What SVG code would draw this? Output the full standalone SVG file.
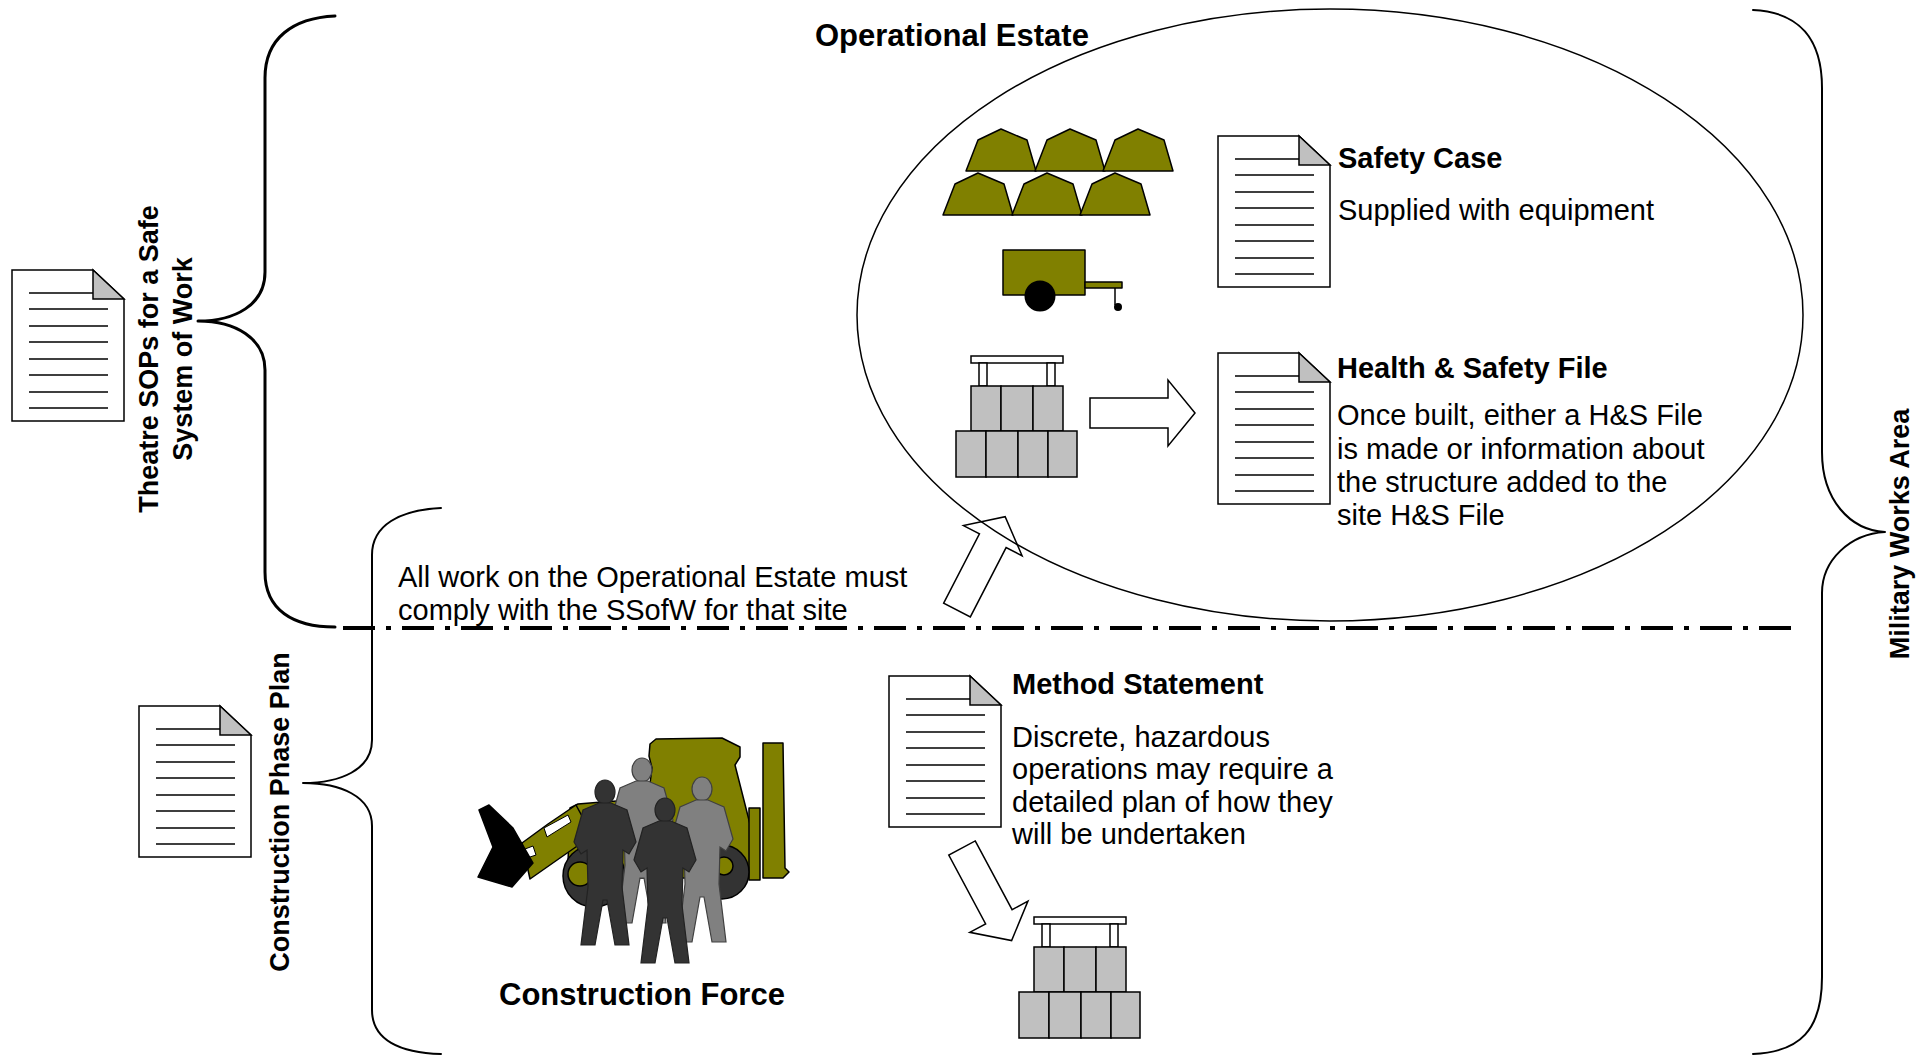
<svg xmlns="http://www.w3.org/2000/svg" xmlns:xlink="http://www.w3.org/1999/xlink" width="1928" height="1056" viewBox="0 0 1928 1056">
  <style>
    text { font-family: "Liberation Sans", Arial, sans-serif; fill: #000; }
    .h { font-weight: bold; font-size: 29px; }
    .hb { font-weight: bold; font-size: 31px; }
    .side { font-weight: bold; font-size: 27px; }
    .body { font-size: 29px; }
    .ln { stroke: #000; stroke-width: 1.5; fill: none; }
    .brace { fill: none; stroke: #000; stroke-linejoin: round; stroke-linecap: round; }
    .olive { fill: #808000; stroke: #000; stroke-width: 1.5; stroke-linejoin: round; }
    .blk { fill: #c0c0c0; stroke: #000; stroke-width: 1.5; }
    .wht { fill: #fff; stroke: #000; stroke-width: 1.5; }
    .arrow { fill: #fff; stroke: #000; stroke-width: 1.5; stroke-linejoin: miter; }
    .dark { fill: #333; stroke: #222; stroke-width: 1.2; }
    .grey { fill: #808080; stroke: #404040; stroke-width: 1.2; }
  </style>
  <defs>
    <!-- document icon with folded corner -->
    <g id="doc">
      <path d="M0,0 H81 L112,29 V151 H0 Z" fill="#fff" stroke="#000" stroke-width="1.5"/>
      <path d="M81,0 V29 H112 Z" fill="#c0c0c0" stroke="#000" stroke-width="1.5"/>
      <path class="ln" d="M17,23 H81 M17,39 H96 M17,56 H96 M17,72 H96 M17,89 H96 M17,105 H96 M17,122 H96 M17,138 H96"/>
    </g>
    <!-- block structure with slab on posts -->
    <g id="structure">
      <rect class="wht" x="15" y="0" width="92" height="7"/>
      <rect class="wht" x="23" y="7" width="8" height="23"/>
      <rect class="wht" x="91" y="7" width="8" height="23"/>
      <rect class="blk" x="15" y="30" width="30" height="45"/>
      <rect class="blk" x="45" y="30" width="32" height="45"/>
      <rect class="blk" x="77" y="30" width="30" height="45"/>
      <rect class="blk" x="0" y="75" width="30" height="46"/>
      <rect class="blk" x="30" y="75" width="32" height="46"/>
      <rect class="blk" x="62" y="75" width="30" height="46"/>
      <rect class="blk" x="92" y="75" width="29" height="46"/>
    </g>
    <!-- hollow block arrow pointing along +x -->
    <polygon id="blockArrow" class="arrow" points="0,-15 78,-15 78,-33 105,0 78,33 78,15 0,15"/>
    <!-- tent -->
    <polygon id="tent" class="olive" points="0,0 12,-31 35,-42 61,-31 70,0"/>
    <!-- standing figure, origin at head centre -->
    <g id="person">
      <ellipse cx="0" cy="0" rx="10" ry="12"/>
      <path d="M-6,11 L6,11 L22,18 L31,50 L24,62 L18,58 L17,95 L24,153 L10,153 L2,108 L-2,108 L-10,153 L-24,153 L-17,95 L-18,58 L-24,62 L-31,50 L-22,18 Z"/>
    </g>
  </defs>

  <!-- brackets and the boundary line -->
  <g id="connectors">
    <path class="brace" stroke-width="3" d="M335,16 C293,18 265,38 265,78 L265,272 C265,305 235,321 198,321 C235,321 265,338 265,370 L265,572 C265,610 293,627 335,627"/>
    <path class="brace" stroke-width="2" d="M441,508 C400,510 372,525 372,555 L372,740 C372,770 340,783 303,783 C340,783 372,796 372,826 L372,1010 C372,1040 400,1053 441,1054"/>
    <path class="brace" stroke-width="2" d="M1753,10 C1800,12 1822,40 1822,88 L1822,452 C1822,500 1850,530 1885,532 C1850,534 1822,560 1822,593 L1822,977 C1822,1030 1800,1052 1753,1054"/>
    <line x1="343" y1="628" x2="1793" y2="628" stroke="#000" stroke-width="4" stroke-dasharray="32 11 5 11"/>
    <use xlink:href="#blockArrow" transform="translate(1090,413)"/>
    <use xlink:href="#blockArrow" transform="translate(957,610) rotate(-62.7)"/>
    <use xlink:href="#blockArrow" transform="translate(962,848) rotate(61.8)"/>
  </g>

  <!-- operational estate boundary -->
  <g id="operational-estate">
    <ellipse cx="1330" cy="315" rx="473" ry="306" fill="none" stroke="#000" stroke-width="1.5"/>
    <text class="hb" x="815" y="46">Operational Estate</text>
  </g>

  <g id="theatre-sops">
    <use xlink:href="#doc" x="12" y="270"/>
    <text class="side" text-anchor="middle" transform="translate(158,359) rotate(-90)">Theatre SOPs for a Safe</text>
    <text class="side" text-anchor="middle" transform="translate(192,359) rotate(-90)">System of Work</text>
  </g>

  <g id="construction-phase-plan">
    <use xlink:href="#doc" x="139" y="706"/>
    <text class="side" text-anchor="middle" transform="translate(289,812) rotate(-90)">Construction Phase Plan</text>
  </g>

  <g id="military-works-area">
    <text class="side" text-anchor="middle" transform="translate(1909,534) rotate(-90)">Military Works Area</text>
  </g>

  <g id="equipment">
    <use xlink:href="#tent" x="966" y="171"/>
    <use xlink:href="#tent" x="1035" y="171"/>
    <use xlink:href="#tent" x="1103" y="171"/>
    <use xlink:href="#tent" x="943" y="215"/>
    <use xlink:href="#tent" x="1012" y="215"/>
    <use xlink:href="#tent" x="1080" y="215"/>
    <rect class="olive" x="1003" y="250" width="82" height="45"/>
    <rect class="olive" x="1085" y="282" width="37" height="6"/>
    <line x1="1115" y1="288" x2="1115" y2="305" stroke="#000" stroke-width="1.5"/>
    <circle cx="1118" cy="307" r="4" fill="#000"/>
    <circle cx="1040" cy="296" r="15.5" fill="#000"/>
  </g>

  <g id="safety-case">
    <use xlink:href="#doc" x="1218" y="136"/>
    <text class="h" x="1338" y="168">Safety Case</text>
    <text class="body" x="1338" y="220">Supplied with equipment</text>
  </g>

  <g id="built-structure">
    <use xlink:href="#structure" x="956" y="356"/>
  </g>

  <g id="hs-file">
    <use xlink:href="#doc" x="1218" y="353"/>
    <text class="h" x="1337" y="378">Health &amp; Safety File</text>
    <text class="body" x="1337" y="425">Once built, either a H&amp;S File</text>
    <text class="body" x="1337" y="459">is made or information about</text>
    <text class="body" x="1337" y="492">the structure added to the</text>
    <text class="body" x="1337" y="525">site H&amp;S File</text>
  </g>

  <g id="ssofw-note">
    <text class="body" x="398" y="587">All work on the Operational Estate must</text>
    <text class="body" x="398" y="620">comply with the SSofW for that site</text>
  </g>

  <g id="method-statement">
    <use xlink:href="#doc" x="889" y="676"/>
    <text class="h" x="1012" y="694">Method Statement</text>
    <text class="body" x="1012" y="747">Discrete, hazardous</text>
    <text class="body" x="1012" y="779">operations may require a</text>
    <text class="body" x="1012" y="812">detailed plan of how they</text>
    <text class="body" x="1012" y="844">will be undertaken</text>
  </g>

  <g id="planned-structure">
    <use xlink:href="#structure" x="1019" y="917"/>
  </g>

  <g id="construction-force">
    <!-- loader -->
    <polygon class="olive" points="650,744 656,739 722,738 740,747 740,757 735,765 752,832 758,838 758,878 575,878 568,862 570,808 578,804 602,802 648,799 652,768 649,756"/>
    <polygon class="olive" points="522,843 548,824 576,805 583,818 583,842 560,858 530,879"/>
    <polygon fill="#fff" stroke="#000" stroke-width="1" points="544,828 568,815 571,822 547,837"/>
    <polygon fill="#fff" stroke="#000" stroke-width="1" points="525,849 533,846 536,855 527,858"/>
    <polygon fill="#000" stroke="#000" stroke-width="1.5" stroke-linejoin="round" points="479,810 489,805 513,828 533,863 512,887 478,877 493,847"/>
    <polygon class="olive" points="763,743 783,743 785,868 789,872 783,878 763,878"/>
    <rect class="olive" x="749" y="808" width="11" height="72"/>
    <circle cx="594" cy="876" r="31" fill="#333" stroke="#000" stroke-width="1.5"/>
    <circle cx="580" cy="874" r="12" class="olive"/>
    <circle cx="722" cy="872" r="27" fill="#333" stroke="#000" stroke-width="1.5"/>
    <circle cx="724" cy="866" r="9" class="olive"/>
    <!-- crew -->
    <use xlink:href="#person" class="grey" transform="translate(642,770)"/>
    <use xlink:href="#person" class="grey" transform="translate(702,789)"/>
    <use xlink:href="#person" class="dark" transform="translate(605,792)"/>
    <use xlink:href="#person" class="dark" transform="translate(665,810)"/>
    <text class="hb" x="499" y="1005">Construction Force</text>
  </g>
</svg>
